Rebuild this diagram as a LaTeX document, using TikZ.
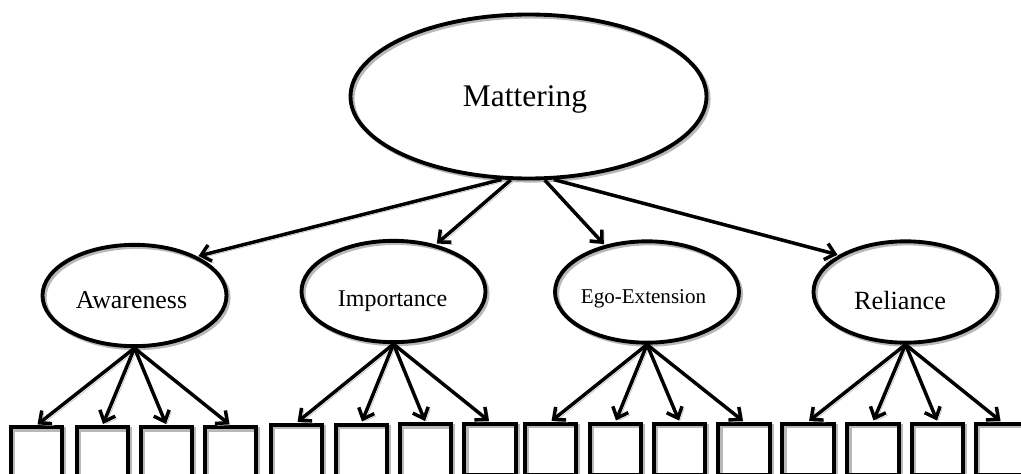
\documentclass[tikz,border=0pt]{standalone}
\usepackage{fontspec}
\setmainfont{Liberation Serif}
\usetikzlibrary{arrows.meta,shapes.geometric}
\begin{document}
\begin{tikzpicture}[x=0.75pt,y=-0.75pt,
  shad/.style={preaction={draw=black!28,transform canvas={shift={(1.6pt,-1.6pt)}}}},
  latent/.style={ellipse,draw,line width=2.9pt,inner sep=0pt,shad},
  small/.style={latent,minimum width=138pt,minimum height=76pt},
  ind/.style={rectangle,draw,line width=3.1pt,minimum width=38.5pt,minimum height=38.5pt,inner sep=0pt,shad},
  load/.style={line width=2.6pt,-{Straight Barb[length=7pt,width=12.5pt]},shorten >=1pt,shad},
  lbl/.style={anchor=base,inner sep=0pt}]
\clip (0,0) rectangle (1021,474);
\fill[white] (0,0) rectangle (1021,474);
% latent variables
\node[latent,minimum width=267pt,minimum height=123pt] (m) at (528.5,96.5) {};
\node[lbl,font=\fontsize{23.6}{28}\selectfont] (mt) at (525,107) {Mattering};
\node[small] (aw) at (134.5,295.5) {};
\node[lbl,font=\fontsize{19.4}{23}\selectfont] (awt) at (131.5,308) {Awareness};
\node[small] (im) at (393.5,291.5) {};
\node[lbl,font=\fontsize{18}{22}\selectfont] (imt) at (392.5,306) {Importance};
\node[small] (eg) at (647,292) {};
\node[lbl,font=\fontsize{15.8}{19}\selectfont] (egt) at (643.5,303) {Ego-Extension};
\node[small] (re) at (905.5,292) {};
\node[lbl,font=\fontsize{19.7}{23}\selectfont] (ret) at (900,309) {Reliance};
% indicators
\node[ind] (b1) at (36.5,453) {};
\node[ind] (b2) at (102.5,453) {};
\node[ind] (b3) at (166.5,453) {};
\node[ind] (b4) at (230.5,453) {};
\node[ind] (b5) at (296.5,450.5) {};
\node[ind] (b6) at (361.5,450.5) {};
\node[ind] (b7) at (425.5,450) {};
\node[ind] (b8) at (490,449.5) {};
\node[ind] (b9) at (550.5,449.5) {};
\node[ind] (b10) at (615.5,449.5) {};
\node[ind] (b11) at (679.5,449.5) {};
\node[ind] (b12) at (744,449.5) {};
\node[ind] (b13) at (808,449.5) {};
\node[ind] (b14) at (873,449.5) {};
\node[ind] (b15) at (937.5,449.5) {};
\node[ind] (b16) at (1001.5,449.5) {};
% structural paths
\draw[load] (m.252) -- (aw.32);
\draw[load] (m.258) -- (im.48);
\draw[load] (m.281) -- (eg.132);
\draw[load] (m.287) -- (re.151);
% measurement paths
\foreach \l/\a/\b/\c/\d in {aw/b1/b2/b3/b4, im/b5/b6/b7/b8, eg/b9/b10/b11/b12, re/b13/b14/b15/b16}{
  \draw[load] (\l.south) -- (\a.north);
  \draw[load] (\l.south) -- (\b.north);
  \draw[load] (\l.south) -- (\c.north);
  \draw[load] (\l.south) -- (\d.north);
}
\end{tikzpicture}
\end{document}
